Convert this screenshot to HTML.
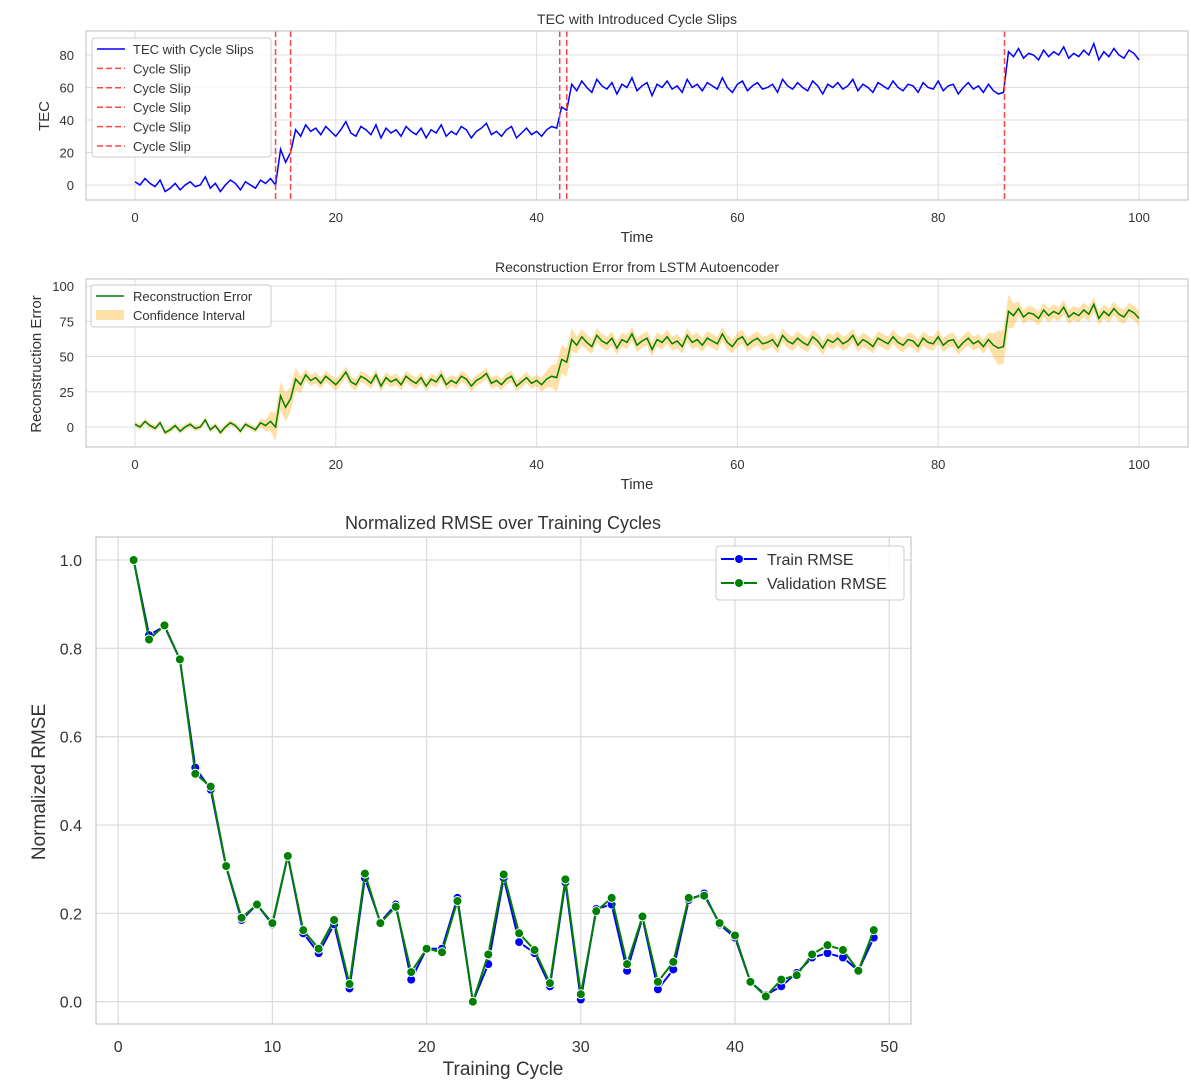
<!DOCTYPE html>
<html><head><meta charset="utf-8"><style>
body{margin:0;background:#fff}
svg text{font-family:"Liberation Sans","DejaVu Sans",sans-serif;fill:#333}
</style></head><body>
<svg id="s" width="1190" height="1086" xmlns="http://www.w3.org/2000/svg"></svg>
<script>
const tecValues=[2,0,4,1,-1,3,-4,-2,1,-3,0,2,-1,0,5,-2,1,-4,0,3,1,-3,2,0,-2,3,1,4,0,
22,14,20,
34,30,37,33,35,31,36,33,30,34,39,32,30,36,34,31,37,29,35,32,34,30,36,33,31,35,29,34,32,37,30,33,31,36,34,29,33,35,38,31,33,30,34,36,29,32,35,31,33,30,34,36,35,
48,46,
62,58,64,60,57,65,61,59,63,56,62,60,66,58,61,63,55,62,60,64,59,61,57,65,60,62,58,63,61,59,66,60,57,62,64,58,61,63,59,60,62,57,65,61,59,63,60,58,64,61,56,62,60,63,59,61,65,58,62,60,57,63,61,59,64,60,58,62,61,57,63,60,59,64,58,61,62,56,60,63,59,61,57,62,58,56,
57,
82,79,84,78,81,80,77,83,79,82,80,85,78,81,79,83,80,87,77,82,79,84,80,78,83,81,77];
const timeStep=0.5;
const slipTimes=[14,15.5,42.3,43,86.6];
const reconValues=tecValues.slice();
const ciTimes=[0,12,13,14,15,16,17,20,40,41,42,43,44,46,85,86,87,88,90,99,100];
const ciWidth=[2,2,4,10,10,8,4,4,4,6,10,10,6,5,5,12,12,5,5,5,5];
const cycles=[];for(let i=1;i<=49;i++)cycles.push(i);
const trainRmse=[1.0,0.83,0.85,0.775,0.53,0.48,0.305,0.185,0.22,0.175,0.33,0.155,0.11,0.175,0.03,0.28,0.18,0.22,0.05,0.12,0.12,0.235,0.0,0.085,0.28,0.135,0.11,0.035,0.27,0.005,0.21,0.22,0.07,0.19,0.028,0.073,0.23,0.245,0.175,0.145,0.045,0.015,0.035,0.065,0.1,0.11,0.1,0.07,0.145];
const valRmse=[1.0,0.82,0.852,0.775,0.516,0.487,0.307,0.19,0.22,0.178,0.33,0.162,0.12,0.185,0.04,0.29,0.178,0.215,0.067,0.12,0.112,0.228,0.0,0.107,0.288,0.155,0.117,0.042,0.277,0.017,0.205,0.235,0.085,0.193,0.045,0.09,0.235,0.24,0.178,0.15,0.045,0.012,0.05,0.06,0.107,0.128,0.117,0.07,0.162];
const xTicks12=[0,20,40,60,80,100];
const yTicks1=[0,20,40,60,80];
const yTicks2=[0,25,50,75,100];
const xTicks3=[0,10,20,30,40,50];
const yTicks3=[0.0,0.2,0.4,0.6,0.8,1.0];

const svg=document.getElementById('s');const NS='http://www.w3.org/2000/svg';
function el(tag,attrs,parent,name,txt){const e=document.createElementNS(NS,tag);for(const k in attrs)e.setAttribute(k,attrs[k]);


if(txt!==undefined)e.textContent=txt;(parent||svg).appendChild(e);return e;}
const X12=t=>135+t*10.04;
const Y1=v=>185-v*1.625;
const Y2=v=>427-v*1.41;
const X3=c=>118.2+c*15.42;
const Y3=v=>1001.7-v*441.7;

function frame(x0,y0,x1,y1,name){el('rect',{x:x0,y:y0,width:x1-x0,height:y1-y0,fill:'none',stroke:'#ccc','stroke-width':1.3},svg,name);}
// Chart 1
const g1=el('g',{},svg,'tec-chart');
frame(86,31,1188,200,'tec-plot-area');
xTicks12.forEach(t=>{el('line',{x1:X12(t),x2:X12(t),y1:31,y2:200,stroke:'#ddd'},g1,'x-gridline');el('text',{x:X12(t),y:222,'font-size':13,'text-anchor':'middle'},g1,'x-tick-label',t);});
yTicks1.forEach(v=>{el('line',{x1:86,x2:1188,y1:Y1(v),y2:Y1(v),stroke:'#ddd'},g1,'y-gridline');el('text',{x:74,y:Y1(v)+5,'font-size':13,'text-anchor':'end'},g1,'y-tick-label',v);});
el('text',{x:637,y:24,'font-size':14,'text-anchor':'middle'},g1,'tec-title','TEC with Introduced Cycle Slips');
el('text',{x:637,y:242,'font-size':15,'text-anchor':'middle'},g1,'x-axis-title','Time');
el('text',{x:49,y:116,'font-size':15,'text-anchor':'middle',transform:'rotate(-90 49 116)'},g1,'y-axis-title','TEC');
el('polyline',{points:tecValues.map((v,i)=>X12(i*timeStep)+','+Y1(v)).join(' '),fill:'none',stroke:'#0000ff','stroke-width':1.5},g1,'tec-line');
slipTimes.forEach(t=>el('line',{x1:X12(t),x2:X12(t),y1:31,y2:200,stroke:'#ff4444','stroke-width':1.5,'stroke-dasharray':'6,3'},g1,'cycle-slip-line'));
const lg1=el('g',{},g1,'tec-legend');
el('rect',{x:92,y:38,width:179,height:119,rx:3,fill:'#fff','fill-opacity':0.85,stroke:'#ccc'},lg1,'legend-box');
['TEC with Cycle Slips','Cycle Slip','Cycle Slip','Cycle Slip','Cycle Slip','Cycle Slip'].forEach((s,i)=>{const y=49+i*19.4;
el('line',{x1:97,x2:125,y1:y,y2:y,stroke:i?'#ff4444':'#0000ff','stroke-width':1.5,'stroke-dasharray':i?'6,3':'none'},lg1,'legend-swatch');
el('text',{x:133,y:y+5,'font-size':13},lg1,'legend-entry',s);});

// Chart 2
const g2=el('g',{},svg,'recon-chart');
frame(86,279,1188,447,'recon-plot-area');
xTicks12.forEach(t=>{el('line',{x1:X12(t),x2:X12(t),y1:279,y2:447,stroke:'#ddd'},g2,'x-gridline');el('text',{x:X12(t),y:469,'font-size':13,'text-anchor':'middle'},g2,'x-tick-label',t);});
yTicks2.forEach(v=>{el('line',{x1:86,x2:1188,y1:Y2(v),y2:Y2(v),stroke:'#ddd'},g2,'y-gridline');el('text',{x:74,y:Y2(v)+5,'font-size':13,'text-anchor':'end'},g2,'y-tick-label',v);});
el('text',{x:637,y:272,'font-size':14,'text-anchor':'middle'},g2,'recon-title','Reconstruction Error from LSTM Autoencoder');
el('text',{x:637,y:489,'font-size':15,'text-anchor':'middle'},g2,'x-axis-title','Time');
el('text',{x:41,y:364,'font-size':15,'text-anchor':'middle',transform:'rotate(-90 41 364)'},g2,'y-axis-title','Reconstruction Error');
function ciAt(t){for(let i=0;i<ciTimes.length-1;i++){if(t<=ciTimes[i+1]){const f=(t-ciTimes[i])/(ciTimes[i+1]-ciTimes[i]);return ciWidth[i]+f*(ciWidth[i+1]-ciWidth[i]);}}return ciWidth[ciWidth.length-1];}
const up=reconValues.map((v,i)=>X12(i*timeStep)+','+Y2(v+ciAt(i*timeStep)));
const lo=reconValues.map((v,i)=>X12(i*timeStep)+','+Y2(v-ciAt(i*timeStep))).reverse();
el('polygon',{points:up.concat(lo).join(' '),fill:'#ffa500','fill-opacity':0.35,stroke:'none'},g2,'confidence-band');
el('polyline',{points:reconValues.map((v,i)=>X12(i*timeStep)+','+Y2(v)).join(' '),fill:'none',stroke:'#008000','stroke-width':1.5},g2,'recon-line');
const lg2=el('g',{},g2,'recon-legend');
el('rect',{x:91,y:285,width:180,height:42,rx:3,fill:'#fff','fill-opacity':0.85,stroke:'#ccc'},lg2,'legend-box');
el('line',{x1:96,x2:124,y1:296,y2:296,stroke:'#008000','stroke-width':1.5},lg2,'legend-swatch');
el('text',{x:133,y:301,'font-size':13},lg2,'legend-entry','Reconstruction Error');
el('rect',{x:96,y:310,width:28,height:10,fill:'#ffa500','fill-opacity':0.35},lg2,'legend-swatch');
el('text',{x:133,y:320,'font-size':13},lg2,'legend-entry','Confidence Interval');

// Chart 3
const g3=el('g',{},svg,'rmse-chart');
frame(96,537,911,1024,'rmse-plot-area');
xTicks3.forEach(t=>{el('line',{x1:X3(t),x2:X3(t),y1:537,y2:1024,stroke:'#ddd','stroke-width':1.3},g3,'x-gridline');el('text',{x:X3(t),y:1052,'font-size':16,'text-anchor':'middle'},g3,'x-tick-label',t);});
yTicks3.forEach(v=>{el('line',{x1:96,x2:911,y1:Y3(v),y2:Y3(v),stroke:'#ddd','stroke-width':1.3},g3,'y-gridline');el('text',{x:82,y:Y3(v)+6,'font-size':16,'text-anchor':'end'},g3,'y-tick-label',v.toFixed(1));});
el('text',{x:503,y:529,'font-size':18,'text-anchor':'middle'},g3,'rmse-title','Normalized RMSE over Training Cycles');
el('text',{x:503,y:1075,'font-size':19,'text-anchor':'middle'},g3,'x-axis-title','Training Cycle');
el('text',{x:45,y:782,'font-size':19,'text-anchor':'middle',transform:'rotate(-90 45 782)'},g3,'y-axis-title','Normalized RMSE');
[[trainRmse,'#0000ff','train'],[valRmse,'#008000','validation']].forEach(([arr,c,n])=>{
el('polyline',{points:arr.map((v,i)=>X3(cycles[i])+','+Y3(v)).join(' '),fill:'none',stroke:c,'stroke-width':2},g3,n+'-rmse-line');
arr.forEach((v,i)=>el('circle',{cx:X3(cycles[i]),cy:Y3(v),r:4.5,fill:c,stroke:'#fff','stroke-width':1},g3,n+'-rmse-point'));});
const lg3=el('g',{},g3,'rmse-legend');
el('rect',{x:716,y:546,width:188,height:54,rx:3,fill:'#fff','fill-opacity':0.85,stroke:'#ccc'},lg3,'legend-box');
[['Train RMSE','#0000ff'],['Validation RMSE','#008000']].forEach(([s,c],i)=>{const y=559+i*24;
el('line',{x1:721,x2:757,y1:y,y2:y,stroke:c,'stroke-width':2},lg3,'legend-swatch');
el('circle',{cx:739,cy:y,r:4.5,fill:c,stroke:'#fff'},lg3,'legend-marker');
el('text',{x:767,y:y+6,'font-size':16},lg3,'legend-entry',s);});
</script>
</body></html>
